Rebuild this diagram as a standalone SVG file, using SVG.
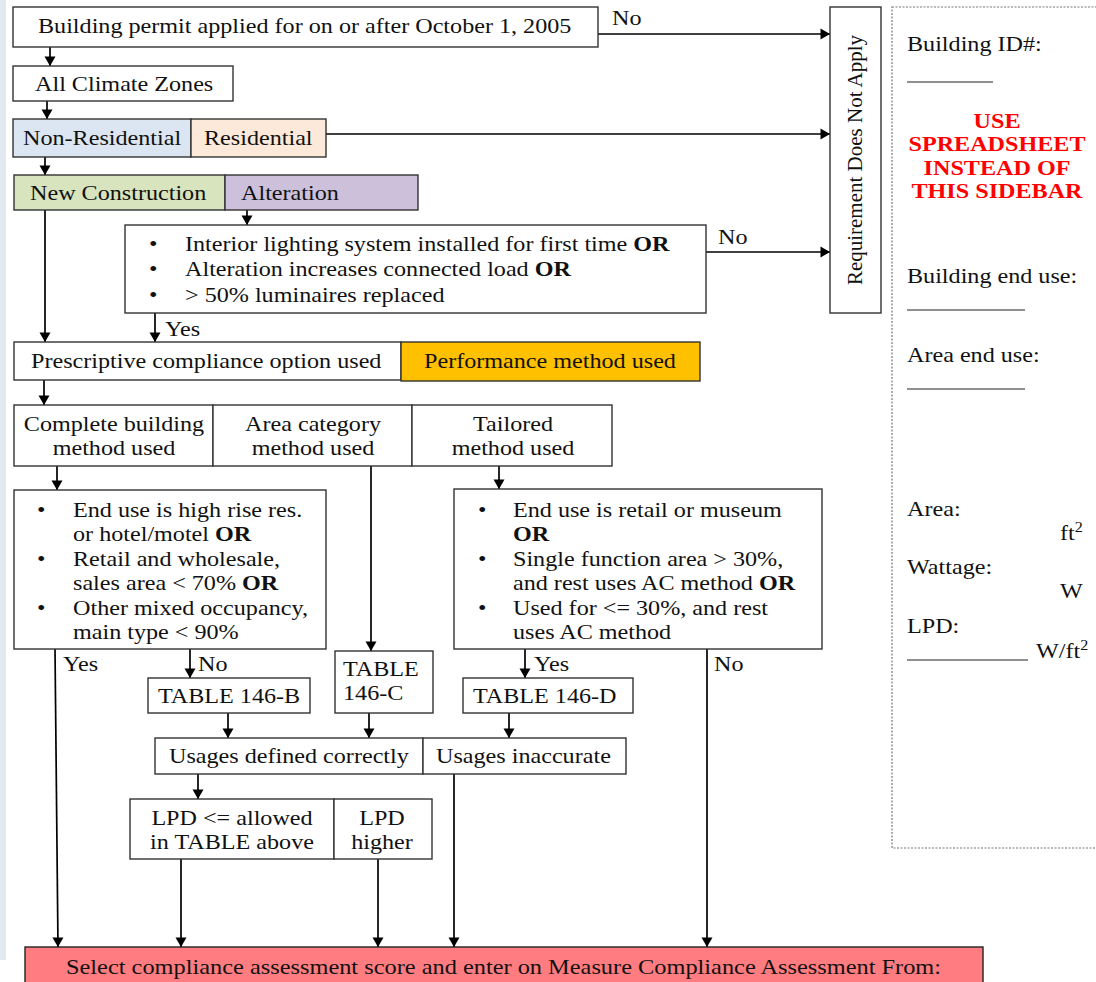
<svg xmlns="http://www.w3.org/2000/svg" width="1096" height="982" viewBox="0 0 1096 982">
<style>
text{font-family:"Liberation Serif","Times New Roman",serif;font-size:21px;fill:#111}
.b{font-weight:bold}
.red{fill:#ff0000;font-weight:bold}
.box{stroke:#333;stroke-width:1.4;fill:#fff}
.arr{stroke:#000;stroke-width:1.7;fill:none;marker-end:url(#ah)}
.m{text-anchor:middle}
.ul{stroke:#222;stroke-width:1.2}
</style>
<defs>
<marker id="ah" markerUnits="userSpaceOnUse" markerWidth="12" markerHeight="12" viewBox="0 0 12 12" refX="10" refY="6" orient="auto">
<path d="M0.5,0.5 L10,6 L0.5,11.5 Z" fill="#000"/>
</marker>
</defs>
<rect width="1096" height="982" fill="#fff"/>
<rect x="0" y="0" width="6" height="960" fill="#e3e9f1"/>

<g id="connectors">
<line class="arr" x1="598" y1="34" x2="830" y2="34"/>
<line class="arr" x1="50" y1="47" x2="50" y2="66"/>
<line class="arr" x1="47" y1="101" x2="47" y2="119"/>
<line class="arr" x1="326" y1="134" x2="830" y2="134"/>
<line class="arr" x1="45" y1="157" x2="45" y2="175"/>
<line class="arr" x1="247" y1="210" x2="247" y2="225"/>
<line class="arr" x1="706" y1="252" x2="830" y2="252"/>
<line class="arr" x1="45" y1="210" x2="45" y2="342"/>
<line class="arr" x1="155" y1="313" x2="155" y2="342"/>
<line class="arr" x1="44" y1="380" x2="44" y2="405"/>
<line class="arr" x1="57" y1="466" x2="57" y2="490"/>
<line class="arr" x1="371" y1="466" x2="371" y2="651"/>
<line class="arr" x1="499" y1="466" x2="499" y2="489"/>
<line class="arr" x1="55" y1="649" x2="58" y2="947"/>
<line class="arr" x1="190" y1="649" x2="190" y2="678"/>
<line class="arr" x1="525" y1="649" x2="525" y2="678"/>
<line class="arr" x1="707" y1="649" x2="707" y2="947"/>
<line class="arr" x1="228" y1="713" x2="228" y2="738"/>
<line class="arr" x1="369" y1="713" x2="369" y2="738"/>
<line class="arr" x1="509" y1="713" x2="509" y2="738"/>
<line class="arr" x1="198" y1="774" x2="198" y2="799"/>
<line class="arr" x1="454" y1="774" x2="454" y2="947"/>
<line class="arr" x1="181" y1="859" x2="181" y2="947"/>
<line class="arr" x1="378" y1="859" x2="378" y2="947"/>
<text transform="translate(612,25) scale(1.15,1)">No</text>
<text transform="translate(718,244) scale(1.15,1)">No</text>
<text transform="translate(165,336) scale(1.15,1)">Yes</text>
<text transform="translate(63,671) scale(1.15,1)">Yes</text>
<text transform="translate(198,671) scale(1.15,1)">No</text>
<text transform="translate(534,671) scale(1.15,1)">Yes</text>
<text transform="translate(714,671) scale(1.15,1)">No</text>
</g>

<g id="permit">
<rect class="box" x="13" y="7" width="585" height="40"/>
<text transform="translate(38,33) scale(1.15,1)">Building permit applied for on or after October 1, 2005</text>
</g>
<g id="not-apply">
<rect class="box" x="830" y="7" width="51" height="306"/>
<text class="m" transform="translate(862,160) rotate(-90)">Requirement Does Not Apply</text>
</g>
<g id="climate">
<rect class="box" x="13" y="66" width="220" height="35"/>
<text transform="translate(35,91) scale(1.15,1)">All Climate Zones</text>
</g>
<g id="nonres">
<rect class="box" x="13" y="119" width="178" height="38" style="fill:#dce6f2"/>
<text transform="translate(23,145) scale(1.15,1)">Non-Residential</text>
</g>
<g id="res">
<rect class="box" x="191" y="119" width="135" height="38" style="fill:#fde9d9"/>
<text transform="translate(204,145) scale(1.15,1)">Residential</text>
</g>
<g id="newcon">
<rect class="box" x="14" y="175" width="211" height="35" style="fill:#d7e4bd"/>
<text transform="translate(30,200) scale(1.15,1)">New Construction</text>
</g>
<g id="alter">
<rect class="box" x="225" y="175" width="193" height="35" style="fill:#ccc0da"/>
<text transform="translate(241,200) scale(1.15,1)">Alteration</text>
</g>
<g id="alter-criteria">
<rect class="box" x="125" y="225" width="581" height="88"/>
<text transform="translate(149,251) scale(1.15,1)">•</text>
<text transform="translate(149,276) scale(1.15,1)">•</text>
<text transform="translate(149,302) scale(1.15,1)">•</text>
<text transform="translate(185,251) scale(1.15,1)">Interior lighting system installed for first time <tspan class="b">OR</tspan></text>
<text transform="translate(185,276) scale(1.15,1)">Alteration increases connected load <tspan class="b">OR</tspan></text>
<text transform="translate(185,302) scale(1.15,1)">&gt; 50% luminaires replaced</text>
</g>
<g id="prescriptive">
<rect class="box" x="14" y="342" width="387" height="38"/>
<text transform="translate(31,368) scale(1.15,1)">Prescriptive compliance option used</text>
</g>
<g id="performance">
<rect class="box" x="401" y="342" width="299" height="39" style="fill:#ffc000"/>
<text transform="translate(424,368) scale(1.15,1)">Performance method used</text>
</g>
<g id="complete-building">
<rect class="box" x="14" y="405" width="199" height="61"/>
<text class="m" transform="translate(114,431) scale(1.15,1)">Complete building</text>
<text class="m" transform="translate(114,455) scale(1.15,1)">method used</text>
</g>
<g id="area-category">
<rect class="box" x="213" y="405" width="199" height="61"/>
<text class="m" transform="translate(313,431) scale(1.15,1)">Area category</text>
<text class="m" transform="translate(313,455) scale(1.15,1)">method used</text>
</g>
<g id="tailored">
<rect class="box" x="412" y="405" width="200" height="61"/>
<text class="m" transform="translate(513,431) scale(1.15,1)">Tailored</text>
<text class="m" transform="translate(513,455) scale(1.15,1)">method used</text>
</g>
<g id="cb-criteria">
<rect class="box" x="14" y="490" width="312" height="159"/>
<text transform="translate(37,517) scale(1.15,1)">•</text>
<text transform="translate(37,566) scale(1.15,1)">•</text>
<text transform="translate(37,615) scale(1.15,1)">•</text>
<text transform="translate(73,517) scale(1.15,1)">End use is high rise res.</text>
<text transform="translate(73,541) scale(1.15,1)">or hotel/motel <tspan class="b">OR</tspan></text>
<text transform="translate(73,566) scale(1.15,1)">Retail and wholesale,</text>
<text transform="translate(73,590) scale(1.15,1)">sales area &lt; 70% <tspan class="b">OR</tspan></text>
<text transform="translate(73,615) scale(1.15,1)">Other mixed occupancy,</text>
<text transform="translate(73,639) scale(1.15,1)">main type &lt; 90%</text>
</g>
<g id="tailored-criteria">
<rect class="box" x="454" y="489" width="368" height="160"/>
<text transform="translate(478,517) scale(1.15,1)">•</text>
<text transform="translate(478,566) scale(1.15,1)">•</text>
<text transform="translate(478,615) scale(1.15,1)">•</text>
<text transform="translate(513,517) scale(1.15,1)">End use is retail or museum</text>
<text class="b" transform="translate(513,541) scale(1.15,1)">OR</text>
<text transform="translate(513,566) scale(1.15,1)">Single function area &gt; 30%,</text>
<text transform="translate(513,590) scale(1.15,1)">and rest uses AC method <tspan class="b">OR</tspan></text>
<text transform="translate(513,615) scale(1.15,1)">Used for &lt;= 30%, and rest</text>
<text transform="translate(513,639) scale(1.15,1)">uses AC method</text>
</g>
<g id="table-b">
<rect class="box" x="148" y="678" width="162" height="35"/>
<text transform="translate(158,703) scale(1.15,1)">TABLE 146-B</text>
</g>
<g id="table-c">
<rect class="box" x="335" y="651" width="98" height="62"/>
<text transform="translate(343,676) scale(1.15,1)">TABLE</text>
<text transform="translate(343,700) scale(1.15,1)">146-C</text>
</g>
<g id="table-d">
<rect class="box" x="463" y="678" width="170" height="35"/>
<text transform="translate(473,703) scale(1.15,1)">TABLE 146-D</text>
</g>
<g id="usages-correct">
<rect class="box" x="155" y="738" width="268" height="36"/>
<text transform="translate(169,763) scale(1.15,1)">Usages defined correctly</text>
</g>
<g id="usages-inaccurate">
<rect class="box" x="423" y="738" width="203" height="36"/>
<text transform="translate(436,763) scale(1.15,1)">Usages inaccurate</text>
</g>
<g id="lpd-allowed">
<rect class="box" x="130" y="799" width="204" height="60"/>
<text class="m" transform="translate(232,825) scale(1.15,1)">LPD &lt;= allowed</text>
<text class="m" transform="translate(232,849) scale(1.15,1)">in TABLE above</text>
</g>
<g id="lpd-higher">
<rect class="box" x="334" y="799" width="98" height="60"/>
<text class="m" transform="translate(382,825) scale(1.15,1)">LPD</text>
<text class="m" transform="translate(382,849) scale(1.15,1)">higher</text>
</g>
<g id="select-score">
<rect x="25" y="947" width="958" height="40" fill="#ff7c80" stroke="#222" stroke-width="1.4"/>
<text transform="translate(66,974) scale(1.16,1)">Select compliance assessment score and enter on Measure Compliance Assessment From:</text>
</g>

<g id="sidebar">
<rect x="892" y="7" width="220" height="841" fill="none" stroke="#777" stroke-width="1.2" stroke-dasharray="2,1.5"/>
<text transform="translate(907,51) scale(1.15,1)">Building ID#:</text>
<line class="ul" x1="907" y1="82" x2="993" y2="82"/>
<text class="red m" transform="translate(997,128) scale(1.15,1)">USE</text>
<text class="red m" transform="translate(997,151) scale(1.15,1)">SPREADSHEET</text>
<text class="red m" transform="translate(997,175) scale(1.15,1)">INSTEAD OF</text>
<text class="red m" transform="translate(997,198) scale(1.15,1)">THIS SIDEBAR</text>
<text transform="translate(907,283) scale(1.15,1)">Building end use:</text>
<line class="ul" x1="907" y1="310" x2="1025" y2="310"/>
<text transform="translate(907,362) scale(1.15,1)">Area end use:</text>
<line class="ul" x1="907" y1="389" x2="1025" y2="389"/>
<text transform="translate(907,516) scale(1.15,1)">Area:</text>
<text transform="translate(1060,540) scale(1.15,1)">ft<tspan font-size="14" dy="-8">2</tspan></text>
<text transform="translate(907,574) scale(1.15,1)">Wattage:</text>
<text transform="translate(1060,598) scale(1.15,1)">W</text>
<text transform="translate(907,633) scale(1.15,1)">LPD:</text>
<line class="ul" x1="907" y1="660" x2="1028" y2="660"/>
<text transform="translate(1036,658) scale(1.15,1)">W/ft<tspan font-size="14" dy="-8">2</tspan></text>
</g>
</svg>
